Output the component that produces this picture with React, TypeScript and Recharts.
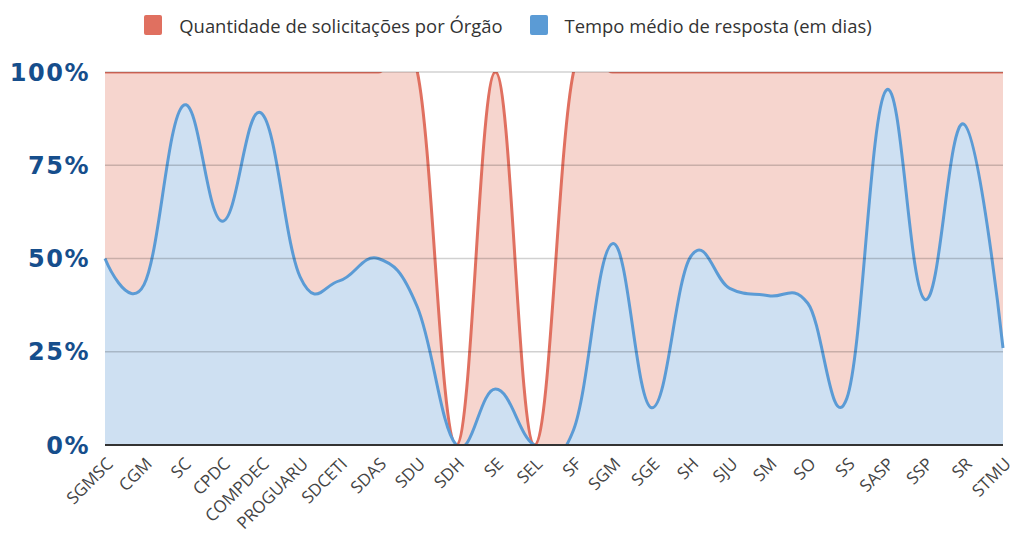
import React from 'react';
import { AreaChart, Area, XAxis, YAxis, ReferenceLine, Legend } from 'recharts';

const categories = ['SGMSC', 'CGM', 'SC', 'CPDC', 'COMPDEC', 'PROGUARU', 'SDCETI', 'SDAS', 'SDU', 'SDH', 'SE', 'SEL', 'SF', 'SGM', 'SGE', 'SH', 'SJU', 'SM', 'SO', 'SS', 'SASP', 'SSP', 'SR', 'STMU'];
const quantidade = [100, 100, 100, 100, 100, 100, 100, 100, 100, 0, 100, 0, 100, 100, 100, 100, 100, 100, 100, 100, 100, 100, 100, 100];
const tempoMedio = [50, 43, 91, 60, 89, 45, 44, 50, 37, 0, 15, 0, 4, 54, 10, 50.5, 42, 40, 38, 12.5, 95, 39, 86, 26];
const yTicks = [0, 25, 50, 75, 100];
const gridValues = [25, 50, 75, 100];
const seriesNames = ['Quantidade de solicitações por Órgão', 'Tempo médio de resposta (em dias)'];

const data = categories.map((name, i) => ({ name, quantidade: quantidade[i], tempo: tempoMedio[i] }));

// Highcharts-like spline curve factory (smoothing 1.5, denominator 2.5)
function splineCurve(context: any) {
  let line = NaN;
  let pts: [number, number][] = [];
  return {
    areaStart() { line = 0; },
    areaEnd() { line = NaN; },
    lineStart() { pts = []; },
    point(x: number, y: number) { pts.push([+x, +y]); },
    lineEnd() {
      const n = pts.length;
      if (n) {
        if (line) context.lineTo(pts[0][0], pts[0][1]);
        else context.moveTo(pts[0][0], pts[0][1]);
        const lc: [number, number][] = [];
        const rc: [number, number][] = [];
        for (let i = 0; i < n; i++) {
          const [x, y] = pts[i];
          if (i > 0 && i < n - 1) {
            const [px, py] = pts[i - 1];
            const [nx, ny] = pts[i + 1];
            const lx = (1.5 * x + px) / 2.5;
            let ly = (1.5 * y + py) / 2.5;
            const rx = (1.5 * x + nx) / 2.5;
            let ry = (1.5 * y + ny) / 2.5;
            if (rx !== lx) {
              const corr = ((ry - ly) * (rx - x)) / (rx - lx) + y - ry;
              ly += corr;
              ry += corr;
            }
            lc[i] = [lx, ly];
            rc[i] = [rx, ry];
          } else {
            lc[i] = [x, y];
            rc[i] = [x, y];
          }
        }
        for (let i = 1; i < n; i++) {
          context.bezierCurveTo(rc[i - 1][0], rc[i - 1][1], lc[i][0], lc[i][1], pts[i][0], pts[i][1]);
        }
      }
      if (line || (line !== 0 && n === 1)) context.closePath();
      line = 1 - line;
    },
  };
}

const XTick = (props: any) => {
  const { x, y, payload } = props;
  const ax = x + 9;
  const ay = y + 20;
  return (
    <text x={ax} y={ay} transform={`rotate(-45 ${ax} ${ay})`} textAnchor="end" fontSize={17} fontFamily="Open Sans" fill="#444">
      {payload.value}
    </text>
  );
};

const LegendContent = (props: any) => {
  const { payload } = props;
  return (
    <div style={{ display: 'flex', justifyContent: 'center', alignItems: 'center', height: 52, fontFamily: 'Open Sans', fontSize: 18.4, color: '#333' }}>
      {(payload || []).map((entry: any, i: number) => (
        <div key={i} style={{ display: 'flex', alignItems: 'center', marginLeft: i === 0 ? 0 : 27, marginTop: -2 }}>
          <span style={{ display: 'inline-block', width: 18, height: 20, background: entry.color, borderRadius: 2, marginRight: 17 }} />
          <span>{entry.value}</span>
        </div>
      ))}
    </div>
  );
};

export default function App() {
  return (
    <div style={{ position: 'absolute', left: 0, top: 0, width: 1016, height: 536, background: '#fff' }}>
      <AreaChart width={1016} height={536} data={data} margin={{ top: 20, right: 13, bottom: 0, left: 0 }}>
        <Legend verticalAlign="top" content={LegendContent} wrapperStyle={{ top: 0, left: 0, width: 1016, height: 52 }} />
        <XAxis
          dataKey="name"
          interval={0}
          tickLine={false}
          tickSize={0}
          tickMargin={0}
          height={91}
          axisLine={{ stroke: '#333', strokeWidth: 2 }}
          tick={XTick}
        />
        <YAxis
          width={105}
          domain={[0, 100]}
          ticks={yTicks}
          allowDataOverflow
          axisLine={false}
          tickLine={false}
          tickSize={0}
          tickMargin={15}
          tickFormatter={(v: number) => `${v}%`}
          tick={{ fontFamily: 'DejaVu Sans', fontWeight: 'bold', fontSize: 24, fill: '#164e8c', letterSpacing: 1.5 }}
        />
        <Area
          name={seriesNames[0]}
          dataKey="quantidade"
          type={splineCurve as any}
          stroke="#e07060"
          strokeWidth={3}
          fill="#f6d5ce"
          fillOpacity={1}
          isAnimationActive={false}
          dot={false}
          activeDot={false}
        />
        <Area
          name={seriesNames[1]}
          dataKey="tempo"
          type={splineCurve as any}
          stroke="#5b9bd5"
          strokeWidth={3}
          fill="#cee0f2"
          fillOpacity={1}
          isAnimationActive={false}
          dot={false}
          activeDot={false}
        />
        {gridValues.map((v) => (
          <ReferenceLine key={v} y={v} stroke="#000" strokeOpacity={0.18} strokeWidth={1.5} />
        ))}
      </AreaChart>
    </div>
  );
}
